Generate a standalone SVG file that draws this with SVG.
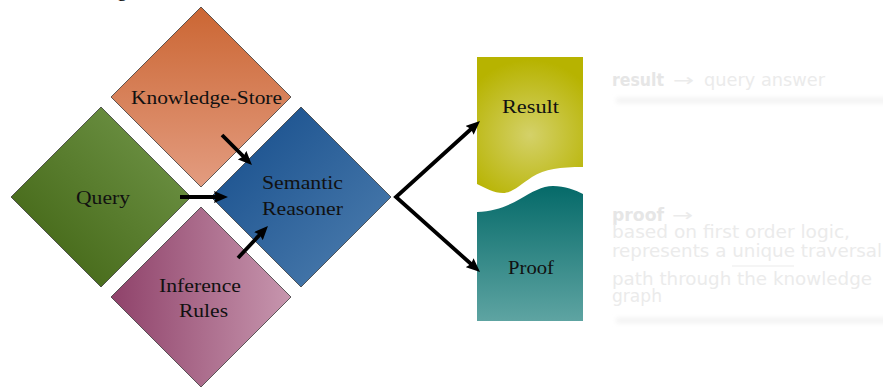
<svg xmlns="http://www.w3.org/2000/svg" width="883" height="387" viewBox="0 0 883 387">
  <defs>
    <style>
      .node-label { font-family: "Liberation Serif", "Times New Roman", serif; font-size: 19px; fill: #111; text-anchor: middle; }
      .diamond { stroke: #3a3a3a; stroke-width: 0.8; }
      .conn { fill: none; stroke: #000; stroke-width: 3.8; stroke-linejoin: miter; stroke-miterlimit: 10; }
      .note { font-family: "DejaVu Sans", "Liberation Sans", sans-serif; font-size: 17px; fill: #ebebeb; }
      .note-b { font-weight: bold; fill: #e6e6e6; }
      .shadow { fill: #f1f1f1; filter: url(#soft); }
    </style>
    <linearGradient id="gKS" x1="0" y1="0" x2="0" y2="1">
      <stop offset="0" stop-color="#cb6633"/>
      <stop offset="1" stop-color="#e39c80"/>
    </linearGradient>
    <linearGradient id="gQ" x1="0" y1="1" x2="1" y2="0">
      <stop offset="0" stop-color="#3d600f"/>
      <stop offset="1" stop-color="#74994c"/>
    </linearGradient>
    <linearGradient id="gSR" x1="0" y1="0" x2="1" y2="1">
      <stop offset="0" stop-color="#134b8a"/>
      <stop offset="1" stop-color="#5080b0"/>
    </linearGradient>
    <linearGradient id="gIR" x1="0" y1="0" x2="1" y2="0">
      <stop offset="0" stop-color="#8f426a"/>
      <stop offset="1" stop-color="#c796ae"/>
    </linearGradient>
    <radialGradient id="gRes" gradientUnits="userSpaceOnUse" cx="530" cy="135" r="75">
      <stop offset="0" stop-color="#d4d169"/>
      <stop offset="1" stop-color="#b7b300"/>
    </radialGradient>
    <linearGradient id="gProof" gradientUnits="userSpaceOnUse" x1="0" y1="186" x2="0" y2="321">
      <stop offset="0" stop-color="#056a69"/>
      <stop offset="1" stop-color="#5ea4a2"/>
    </linearGradient>
    <filter id="soft" x="-10%" y="-200%" width="120%" height="500%">
      <feGaussianBlur stdDeviation="2.8"/>
    </filter>
    <marker id="head" markerUnits="userSpaceOnUse" viewBox="0 0 14 12" markerWidth="14" markerHeight="12" refX="5" refY="6" orient="auto-start-reverse">
      <path d="M0,0 L14,6 L0,12 L2,6 z" fill="#000"/>
    </marker>
  </defs>

  <rect width="883" height="387" fill="#fff"/>

  <!-- descender of the heading line above the frame -->
  <text x="117" y="-4" style="font-family: 'Liberation Serif', serif; font-size: 20px; fill: #000;">g</text>

  <g id="knowledge-store">
    <polygon class="diamond" points="201,7 291,97 201,187 111,97" fill="url(#gKS)"/>
    <text class="node-label" x="206.5" y="104" textLength="151" lengthAdjust="spacingAndGlyphs">Knowledge-Store</text>
  </g>

  <g id="query">
    <polygon class="diamond" points="101,107 191,197 101,287 11,197" fill="url(#gQ)"/>
    <text class="node-label" x="103" y="204" textLength="54" lengthAdjust="spacingAndGlyphs">Query</text>
  </g>

  <g id="semantic-reasoner">
    <polygon class="diamond" points="301,107 391,197 301,287 211,197" fill="url(#gSR)"/>
    <text class="node-label" x="302.5" y="188.5" textLength="81" lengthAdjust="spacingAndGlyphs">Semantic</text>
    <text class="node-label" x="302.5" y="215" textLength="81" lengthAdjust="spacingAndGlyphs">Reasoner</text>
  </g>

  <g id="inference-rules">
    <polygon class="diamond" points="201,207 291,297 201,387 111,297" fill="url(#gIR)"/>
    <text class="node-label" x="200" y="292" textLength="82" lengthAdjust="spacingAndGlyphs">Inference</text>
    <text class="node-label" x="203.5" y="317" textLength="49" lengthAdjust="spacingAndGlyphs">Rules</text>
  </g>

  <g id="result">
    <path d="M477,57 L583,57 L583,167 C560,167 545,169 532,177 C520,185 512,193 503,193 C494,193 485,188 477,184 Z" fill="url(#gRes)"/>
    <text class="node-label" x="530.5" y="113" textLength="57" lengthAdjust="spacingAndGlyphs">Result</text>
  </g>

  <g id="proof">
    <path d="M477,212 C495,211 508,206 520,199 C532,192 542,186 553,186 C565,186 575,190 583,194 L583,321 L477,321 Z" fill="url(#gProof)"/>
    <text class="node-label" x="531" y="274" textLength="46" lengthAdjust="spacingAndGlyphs">Proof</text>
  </g>

  <g id="connectors">
    <path class="conn" d="M222,135 L245.6,158.6" marker-end="url(#head)"/>
    <path class="conn" d="M180,197 L219,197" marker-end="url(#head)"/>
    <path class="conn" d="M238,258 L261.8,232.5" marker-end="url(#head)"/>
    <path class="conn" d="M473.3,127 L396,197 L473.3,266" marker-start="url(#head)" marker-end="url(#head)"/>
  </g>

  <g id="result-note">
    <rect class="shadow" x="616" y="98" width="280" height="5"/>
    <text class="note" x="612" y="86"><tspan class="note-b" textLength="52" lengthAdjust="spacingAndGlyphs">result</tspan><tspan x="673" textLength="21" lengthAdjust="spacingAndGlyphs">→</tspan><tspan x="704" textLength="121" lengthAdjust="spacingAndGlyphs">query answer</tspan></text>
  </g>

  <g id="proof-note">
    <rect class="shadow" x="616" y="318" width="280" height="5"/>
    <text class="note" x="612" y="221"><tspan class="note-b" textLength="52" lengthAdjust="spacingAndGlyphs">proof</tspan><tspan x="672" textLength="21" lengthAdjust="spacingAndGlyphs">→</tspan></text>
    <text class="note" x="612" y="238" textLength="238" lengthAdjust="spacingAndGlyphs">based on first order logic,</text>
    <text class="note" x="612" y="257" textLength="270" lengthAdjust="spacingAndGlyphs">represents a unique traversal</text>
    <line x1="732" y1="266" x2="794" y2="266" stroke="#ebebeb" stroke-width="1"/>
    <text class="note" x="612" y="285" textLength="260" lengthAdjust="spacingAndGlyphs">path through the knowledge</text>
    <text class="note" x="612" y="302" textLength="50" lengthAdjust="spacingAndGlyphs">graph</text>
  </g>
</svg>
